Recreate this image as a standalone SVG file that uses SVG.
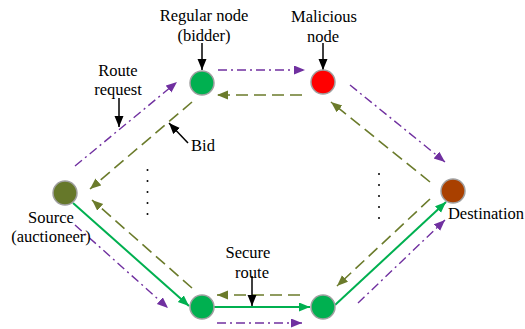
<svg xmlns="http://www.w3.org/2000/svg" width="525" height="329" viewBox="0 0 525 329">
<style>
text{font-family:'Liberation Serif','DejaVu Serif',serif;font-size:16.5px;fill:#000;text-anchor:middle}
.node{stroke:#a0a0a0;stroke-width:1.5}
.p{stroke:#7030A0;stroke-width:1.4;fill:none;stroke-dasharray:9 4 2 4}
.o{stroke:#6B7B2B;stroke-width:1.6;fill:none;stroke-dasharray:12 6}
.g{stroke:#00B050;stroke-width:2;fill:none}
.k{stroke:#000;stroke-width:1.5;fill:none}
.dot{fill:#000}
</style>
<defs>
<marker id="mp" markerUnits="userSpaceOnUse" markerWidth="12" markerHeight="10" refX="11" refY="4.5" orient="auto"><path d="M0,0 L11,4.5 L0,9 z" fill="#7030A0"/></marker>
<marker id="mo" markerUnits="userSpaceOnUse" markerWidth="12" markerHeight="10" refX="11" refY="4.5" orient="auto"><path d="M0,0 L11,4.5 L0,9 z" fill="#6B7B2B"/></marker>
<marker id="mg" markerUnits="userSpaceOnUse" markerWidth="12" markerHeight="10" refX="11" refY="4.5" orient="auto"><path d="M0,0 L11,4.5 L0,9 z" fill="#00B050"/></marker>
<marker id="mk" markerUnits="userSpaceOnUse" markerWidth="12" markerHeight="10" refX="11" refY="4.5" orient="auto"><path d="M0,0 L11,4.5 L0,9 z" fill="#000"/></marker>
</defs>
<g id="connectors">
<line class="p" x1="75" y1="166" x2="177" y2="82" marker-end="url(#mp)"/>
<line class="o" x1="192" y1="102" x2="90" y2="189" marker-end="url(#mo)"/>
<line class="p" x1="218" y1="70" x2="305" y2="70" marker-end="url(#mp)"/>
<line class="o" x1="302" y1="95" x2="217" y2="95" marker-end="url(#mo)"/>
<line class="p" x1="350" y1="85" x2="445" y2="162" marker-end="url(#mp)"/>
<line class="o" x1="430" y1="182" x2="331" y2="102" marker-end="url(#mo)"/>
<line class="g" x1="73" y1="203" x2="189" y2="306" marker-end="url(#mg)"/>
<line class="o" x1="192" y1="288" x2="92" y2="200" marker-end="url(#mo)"/>
<line class="p" x1="75" y1="225" x2="168" y2="308" marker-end="url(#mp)"/>
<line class="g" x1="214" y1="307" x2="310" y2="307" marker-end="url(#mg)"/>
<line class="o" x1="300" y1="295" x2="217" y2="295" marker-end="url(#mo)"/>
<line class="p" x1="217" y1="323" x2="302" y2="323" marker-end="url(#mp)"/>
<line class="g" x1="335" y1="305" x2="446" y2="202" marker-end="url(#mg)"/>
<line class="o" x1="430" y1="199" x2="337" y2="286" marker-end="url(#mo)"/>
<line class="p" x1="358" y1="303" x2="445" y2="220" marker-end="url(#mp)"/>
<line class="k" x1="202" y1="43" x2="202" y2="70" marker-end="url(#mk)"/>
<line class="k" x1="323" y1="43" x2="323" y2="70" marker-end="url(#mk)"/>
<line class="k" x1="119" y1="98" x2="119" y2="127" marker-end="url(#mk)"/>
<line class="k" x1="188" y1="143" x2="169" y2="123" marker-end="url(#mk)"/>
<line class="k" x1="252" y1="276" x2="252" y2="306" marker-end="url(#mk)"/>
</g>
<g id="dots-left">
<circle class="dot" cx="147.5" cy="170" r="1"/><circle class="dot" cx="147.5" cy="181" r="1"/><circle class="dot" cx="147.5" cy="192" r="1"/><circle class="dot" cx="147.5" cy="203" r="1"/><circle class="dot" cx="147.5" cy="214" r="1"/>
</g>
<g id="dots-right">
<circle class="dot" cx="379" cy="174" r="1"/><circle class="dot" cx="379" cy="185" r="1"/><circle class="dot" cx="379" cy="196" r="1"/><circle class="dot" cx="379" cy="207" r="1"/><circle class="dot" cx="379" cy="218" r="1"/>
</g>
<g id="regular-node">
<circle class="node" cx="202" cy="83" r="12" fill="#00B050"/>
<text x="204" y="21" font-family="Liberation Serif">Regular node</text>
<text x="204" y="41" font-family="Liberation Serif">(bidder)</text>
</g>
<g id="malicious-node">
<circle class="node" cx="323" cy="82" r="12" fill="#FF0000"/>
<text x="324" y="22" font-family="Liberation Serif">Malicious</text>
<text x="323" y="42" font-family="Liberation Serif">node</text>
</g>
<g id="source">
<circle class="node" cx="65" cy="193" r="12" fill="#66782A"/>
<text x="51" y="223" font-family="Liberation Serif">Source</text>
<text x="51" y="242" font-family="Liberation Serif">(auctioneer)</text>
</g>
<g id="destination">
<circle class="node" cx="453" cy="191" r="12" fill="#A94000"/>
<text x="486" y="219" font-family="Liberation Serif">Destination</text>
</g>
<g id="bottom-left">
<circle class="node" cx="202" cy="307" r="12" fill="#00B050"/>
</g>
<g id="bottom-right">
<circle class="node" cx="323" cy="307" r="12" fill="#00B050"/>
</g>
<g id="labels">
<text x="118" y="76" font-family="Liberation Serif">Route</text>
<text x="118" y="95" font-family="Liberation Serif">request</text>
<text x="203" y="151" font-family="Liberation Serif">Bid</text>
<text x="248" y="258" font-family="Liberation Serif">Secure</text>
<text x="252" y="278" font-family="Liberation Serif">route</text>
</g>
</svg>
